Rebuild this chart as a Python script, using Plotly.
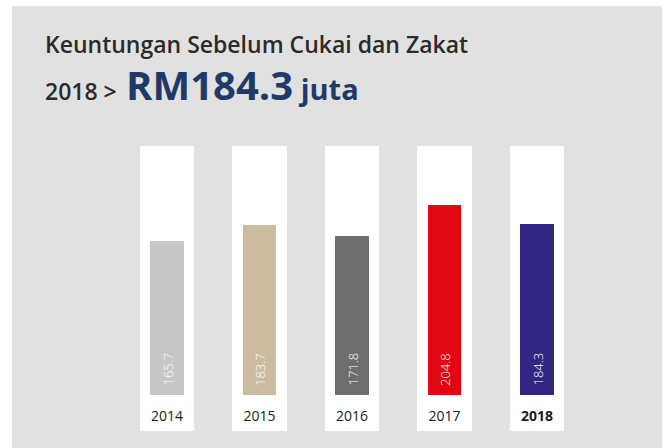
import plotly.graph_objects as go

years = ["2014", "2015", "2016", "2017", "2018"]
values = [165.7, 183.7, 171.8, 204.8, 184.3]
bar_colors = ["#c6c6c6", "#cbbc9f", "#6e6e6e", "#e30613", "#312783"]
tick_labels = ["2014", "2015", "2016", "2017", "<b>2018</b>"]
title_text = "Keuntungan Sebelum Cukai dan Zakat"
sub_year = "2018 &gt;"
sub_value = "RM184.3"
sub_unit = "juta"

W, H = 665, 448
BG = "#e1e1e1"
NAVY = "#1f3a68"
DARK = "#2b2b2b"

# axis scale: y=0 at px 395, 0.928 px per unit
px_per_unit = 0.928
zero_px = 395
y_top = zero_px / px_per_unit
y_bot = -(H - zero_px) / px_per_unit
# white column band (px 146..431)
col_top = (zero_px - 146) / px_per_unit
col_base = -(431 - zero_px) / px_per_unit

fig = go.Figure()
fig.add_trace(go.Bar(
    x=years, y=[col_top - col_base] * len(years), base=col_base,
    width=0.584, marker=dict(color="white", line=dict(width=0)),
    hoverinfo="skip", showlegend=False,
))
fig.add_trace(go.Bar(
    x=years, y=values, width=0.357,
    marker=dict(color=bar_colors, line=dict(width=0)),
    showlegend=False,
))

annotations = []
for i, v in enumerate(values):
    annotations.append(dict(
        x=i, y=0, xref="x", yref="y", text=f"{v:.1f}", textangle=-90,
        showarrow=False, xanchor="center", yanchor="bottom", yshift=7,
        font=dict(family="Open Sans", size=13, color="white", weight=300),
    ))

annotations.append(dict(
    x=43 / W, y=1 - 26 / H, xref="paper", yref="paper", xanchor="left", yanchor="top",
    showarrow=False, text=title_text,
    font=dict(family="Open Sans", size=23, color=DARK, weight=600),
))
annotations.append(dict(
    x=43 / W, y=1 - 55 / H, xref="paper", yref="paper", xanchor="left", yanchor="top",
    showarrow=False,
    text=(f"<span style='font-size:23px;color:{DARK}'>{sub_year}</span>"
          f"<span style='font-size:36px'> </span>"
          f"<span style='font-size:40px;color:{NAVY}'><b>{sub_value}</b></span>"
          f"<span style='font-size:29px;color:{NAVY}'><b> {sub_unit}</b></span>"),
    font=dict(family="Open Sans", size=23, color=DARK, weight=600),
))

fig.update_layout(
    width=W, height=H,
    margin=dict(l=0, r=0, t=0, b=0),
    paper_bgcolor="white", plot_bgcolor="rgba(0,0,0,0)",
    barmode="overlay", bargap=0,
    template="none",
    annotations=annotations,
    shapes=[dict(type="rect", xref="paper", yref="paper",
                 x0=12 / W, x1=662 / W, y0=-0.01, y1=1 - 6 / H,
                 fillcolor=BG, line=dict(width=0), layer="below")],
    xaxis=dict(
        type="category", range=[-167 / 92.5, (W - 167) / 92.5],
        anchor="free", position=1 - zero_px / H,
        showgrid=False, zeroline=False, showline=False, ticks="",
        tickvals=years, ticktext=tick_labels, ticklabelstandoff=11,
        tickfont=dict(family="Open Sans", size=14, color="#1a1a1a"),
        automargin=False, fixedrange=True,
    ),
    yaxis=dict(range=[y_bot, y_top], visible=False, automargin=False, fixedrange=True),
)

fig.write_html("out.html", config={"displayModeBar": False},
               post_script="document.body.style.margin='0px';document.body.style.overflow='hidden';")
